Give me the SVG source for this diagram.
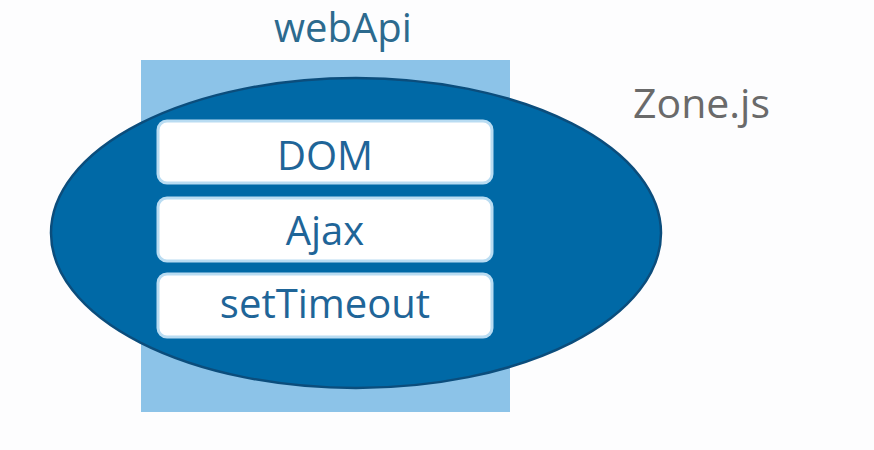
<svg xmlns="http://www.w3.org/2000/svg" width="874" height="450" viewBox="0 0 874 450">
<style>
.lbl{font-family:"Open Sans","Liberation Sans",sans-serif;font-size:40px;text-anchor:middle}
.box{fill:#ffffff;stroke:#b9dcf2;stroke-width:3}
.boxtxt{fill:#1f6598}
</style>
<rect x="0" y="0" width="874" height="450" fill="#fdfdfe"/>
<g id="webApi">
<rect x="141" y="60" width="369" height="352" fill="#8cc3e8"/>
<text class="lbl" x="343" y="42" fill="#2c6a8e">webApi</text>
</g>
<g id="zonejs">
<ellipse cx="356" cy="233" rx="305" ry="155" fill="#0069a6" stroke="#0b4d7c" stroke-width="2.5"/>
<text x="633" y="118" font-family="'Open Sans','Liberation Sans',sans-serif" font-size="41" fill="#6a6a6a">Zone.js</text>
</g>
<g id="dom">
<rect class="box" x="158" y="121" width="334" height="62" rx="9"/>
<text class="lbl boxtxt" x="325" y="170">DOM</text>
</g>
<g id="ajax">
<rect class="box" x="158" y="198" width="334" height="63" rx="9"/>
<text class="lbl boxtxt" x="325" y="245">Ajax</text>
</g>
<g id="settimeout">
<rect class="box" x="158" y="274" width="334" height="63" rx="9"/>
<text class="lbl boxtxt" x="325" y="318">setTimeout</text>
</g>
<g id="connectors"></g>
</svg>
